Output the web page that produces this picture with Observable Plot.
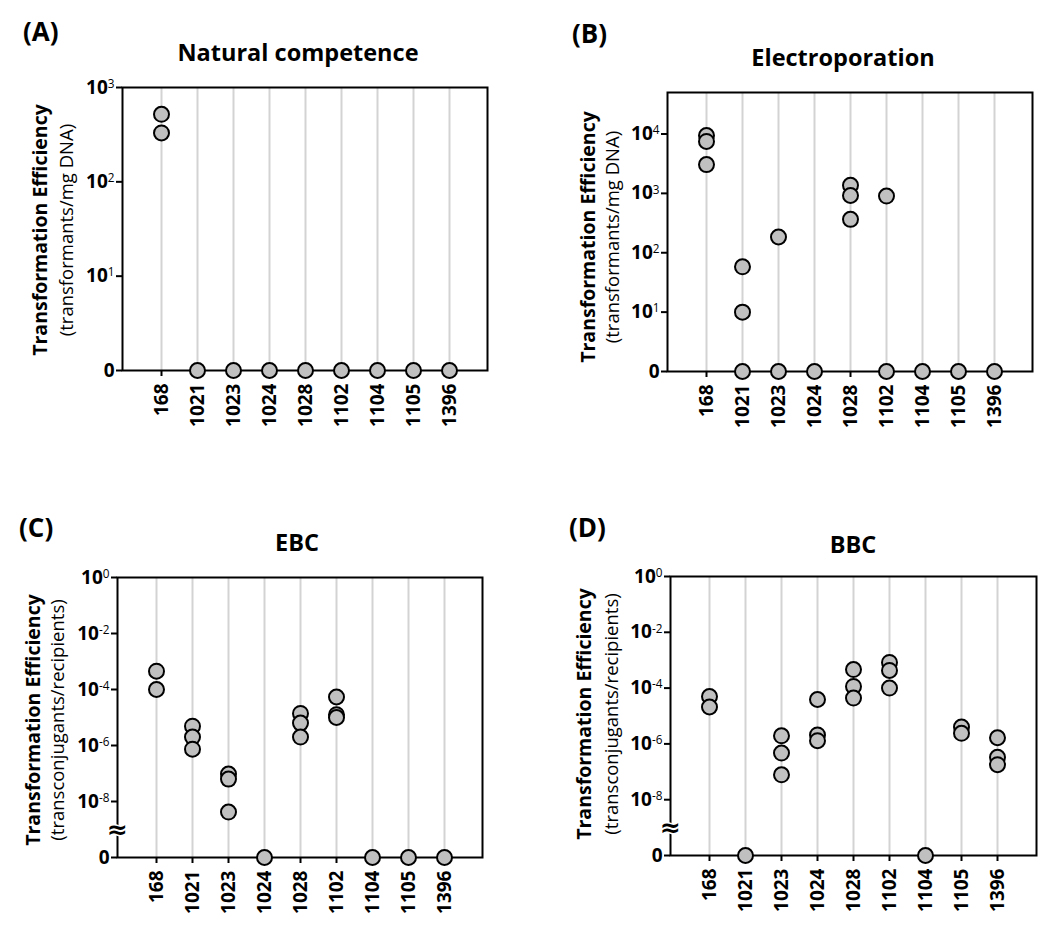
<!DOCTYPE html>
<html><head><meta charset="utf-8">
<script src="https://cdn.jsdelivr.net/npm/d3@7"></script>
<script src="https://cdn.jsdelivr.net/npm/@observablehq/plot@0.6"></script>
<style>
body{margin:0;background:#fff;font-family:"Open Sans",sans-serif;color:#000;}
#root{position:relative;width:1046px;height:942px;overflow:hidden;background:#fff;}
.panel{position:absolute;}
.letter{position:absolute;font-weight:bold;font-size:26px;line-height:1;}
.title{position:absolute;font-weight:bold;font-size:23.5px;line-height:1;transform:translateX(-50%);white-space:nowrap;}
</style></head><body><div id="root"></div>
<script>
// Categories (strains)
const strains = ["168","1021","1023","1024","1028","1102","1104","1105","1396"];

// (A) Natural competence, transformants/mg DNA (0 = none detected)
const natural = [[520, 330], [0], [0], [0], [0], [0], [0], [0], [0]];
// (B) Electroporation, transformants/mg DNA
const electro = [[9400, 7500, 3050], [58, 10, 0], [184, 0], [0], [1370, 920, 365], [900, 0], [0], [0], [0]];
// (C) EBC, transconjugants/recipients
const ebc = [[4.5e-4, 1.0e-4], [4.9e-6, 2.0e-6, 7.4e-7], [9.5e-8, 6.3e-8, 4.2e-9], [0], [1.4e-5, 6.3e-6, 2.0e-6], [5.4e-5, 1.26e-5, 1.0e-5], [0], [0], [0]];
// (D) BBC, transconjugants/recipients
const bbc = [[5.0e-5, 2.1e-5], [0], [1.95e-6, 4.7e-7, 7.8e-8], [3.9e-5, 2.1e-6, 1.3e-6], [4.6e-4, 1.15e-4, 4.4e-5], [8.3e-4, 4.3e-4, 1.0e-4], [0], [4.0e-6, 2.4e-6], [1.66e-6, 3.3e-7, 1.8e-7]];

// Tick values
const ticksA = [1, 10, 100, 1000];
const ticksB = [1, 10, 100, 1000, 10000];
const ticksCD = [1e-10, 1e-8, 1e-6, 1e-4, 1e-2, 1];

const panels = [
  {id:"A", title:"Natural competence", values:natural, domain:[1, 1000], ticks:ticksA, floor:1,
   left:0, top:0, width:520, height:460, m:[87,33,90,122], brk:null,
   ylab:["Transformation Efficiency","(transformants/mg DNA)"], labX:[39,65], labY:230,
   letterPos:[23,18], titlePos:[298,41]},
  {id:"B", title:"Electroporation", values:electro, domain:[1, 50000], ticks:ticksB, floor:1,
   left:520, top:0, width:526, height:460, m:[92,14,89,147], brk:null,
   ylab:["Transformation Efficiency","(transformants/mg DNA)"], labX:[67,91], labY:237,
   letterPos:[572,20], titlePos:[843,46]},
  {id:"C", title:"EBC", values:ebc, domain:[1e-10, 1], ticks:ticksCD, floor:1e-10,
   left:0, top:500, width:520, height:442, m:[77,38,85,117], brk:1e-9,
   ylab:["Transformation Efficiency","(transconjugants/recipients)"], labX:[32,56], labY:220,
   letterPos:[19,514], titlePos:[297,531]},
  {id:"D", title:"BBC", values:bbc, domain:[1e-10, 1], ticks:ticksCD, floor:1e-10,
   left:520, top:500, width:526, height:442, m:[76,10,87,150], brk:1e-9,
   ylab:["Transformation Efficiency","(transconjugants/recipients)"], labX:[63,90], labY:214,
   letterPos:[569,514], titlePos:[853,533]}
];

const root = document.getElementById("root");

function fmt(floor) {
  return v => v === floor ? "0" : "10^" + Math.round(Math.log10(v));
}

for (const p of panels) {
  const rows = [];
  p.values.forEach((arr, i) => arr.forEach(v => rows.push({strain: strains[i], value: v})));
  const marks = [
    Plot.ruleX(strains, {stroke:"#d3d3d3", strokeWidth:2}),
    Plot.frame({stroke:"#000", strokeWidth:2}),
    Plot.axisY({ticks:p.ticks, tickFormat:fmt(p.floor), tickSize:6, tickPadding:2, strokeWidth:2, label:null,
      fontSize:19, fontWeight:"bold"}),
    Plot.axisX({tickRotate:-90, tickSize:6, tickPadding:7, strokeWidth:2, label:null, fontSize:19, fontWeight:"bold"})
  ];
  if (p.brk) {
    marks.push(Plot.text([p.brk], {y:d=>d, text:()=>"≈", frameAnchor:"left", textAnchor:"middle",
      fontSize:25, fontWeight:"bold", fontFamily:"DejaVu Sans", fill:"#000", stroke:"#fff", strokeWidth:3,
      ariaLabel:"axis break"}));
  }
  marks.push(Plot.dot(rows, {x:"strain", y:d => d.value === 0 ? p.floor : d.value, r:7.5,
    fill:"#c0c0c0", stroke:"#000", strokeWidth:2}));
  const chart = Plot.plot({
    width:p.width, height:p.height,
    marginTop:p.m[0], marginRight:p.m[1], marginBottom:p.m[2], marginLeft:p.m[3],
    style:{fontFamily:"Open Sans", fontSize:"17px", fontWeight:"bold", color:"#000", background:"transparent", overflow:"visible"},
    x:{type:"point", domain:strains, padding:1, label:null},
    y:{type:"log", domain:p.domain, label:null},
    marks
  });
  const svg = d3.select(chart);
  // make the axis-break symbol taller and narrower
  svg.selectAll('g[aria-label="axis break"] text').each(function() {
    const t = d3.select(this);
    const tr = t.attr("transform") || "";
    t.attr("transform", tr + " scale(0.6,1.4)");
  });
  // superscript exponents on y tick labels
  svg.selectAll('g[aria-label="y-axis tick label"] text').each(function() {
    const t = d3.select(this);
    const s = t.text();
    const m = s.match(/^10\^(-?\d+)$/);
    if (m) {
      t.text(null);
      t.append("tspan").text("10");
      t.append("tspan").attr("dy","-0.5em").attr("font-size","0.62em").attr("font-weight","normal").text(m[1]);
    }
  });
  // two-line y label
  svg.append("text").attr("transform", `translate(${p.labX[0]},${p.labY}) rotate(-90)`)
    .attr("text-anchor","middle").attr("dominant-baseline","central")
    .attr("font-size","19.5px").attr("font-weight","bold").text(p.ylab[0]);
  svg.append("text").attr("transform", `translate(${p.labX[1]},${p.labY}) rotate(-90)`)
    .attr("text-anchor","middle").attr("dominant-baseline","central")
    .attr("font-size","18.5px").attr("font-weight","normal").text(p.ylab[1]);

  const div = document.createElement("div");
  div.className = "panel";
  div.style.left = p.left + "px";
  div.style.top = p.top + "px";
  div.appendChild(chart);
  root.appendChild(div);

  const letter = document.createElement("div");
  letter.className = "letter";
  letter.textContent = "(" + p.id + ")";
  letter.style.left = p.letterPos[0] + "px";
  letter.style.top = p.letterPos[1] + "px";
  root.appendChild(letter);

  const title = document.createElement("div");
  title.className = "title";
  title.textContent = p.title;
  title.style.left = p.titlePos[0] + "px";
  title.style.top = p.titlePos[1] + "px";
  root.appendChild(title);
}
</script>
</body></html>
